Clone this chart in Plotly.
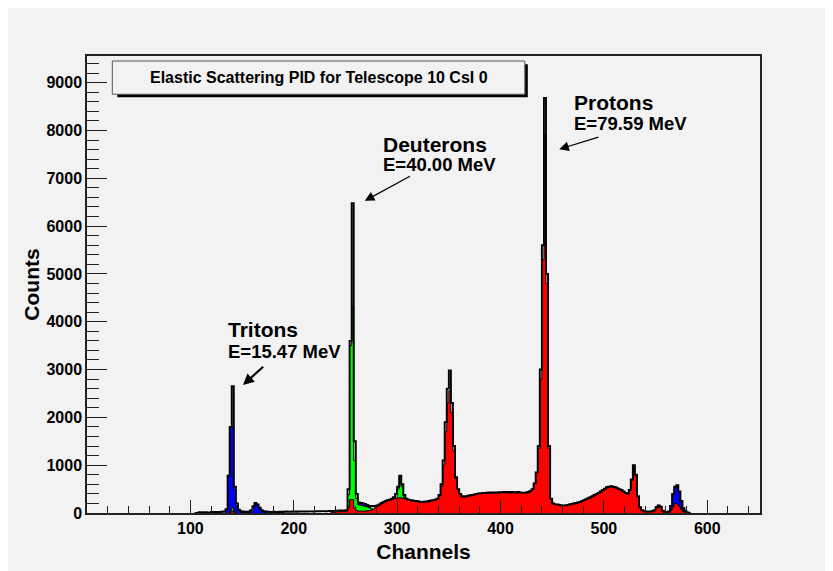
import plotly.graph_objects as go

# ---------------- data (2-channel bins, listed from a start channel) ----------------
BIN = 2

TOTAL_START = 104
TOTAL = [
    0, 0, 15, 15, 10, 15, 0, 10, 20, 20,              # 104-122
    20, 15, 20, 25, 30, 80, 780, 1800, 2650, 550,     # 124-142
    200, 70, 40, 30, 25, 20, 30, 60, 140, 210,        # 144-162
    180, 110, 60, 40, 30, 25, 20, 20, 25, 20,         # 164-182
    20, 25, 20, 25, 30, 25, 25, 30, 30, 25,           # 184-202
    30, 30, 35, 30, 30, 35, 35, 30, 35, 40,           # 204-222
    35, 40, 40, 35, 40, 45, 40, 45, 50, 50,           # 224-242
    55, 50, 55, 60, 500, 3600, 6480, 1500, 400, 220,  # 244-262
    210, 200, 190, 170, 150, 140, 150, 140, 160, 180, # 264-282
    210, 230, 250, 270, 280, 300, 330, 400, 550, 780, # 284-302
    600, 380, 300, 280, 270, 260, 250, 250, 240, 230, # 304-322
    230, 240, 240, 250, 260, 270, 280, 300, 380, 600, # 324-342
    1100, 1900, 2600, 2980, 2300, 1400, 750, 500, 400, 350,  # 344-362
    340, 350, 360, 370, 380, 390, 400, 410, 410, 420, # 364-382
    420, 425, 430, 420, 430, 430, 425, 435, 430, 440, # 384-402
    435, 440, 430, 440, 435, 430, 440, 430, 425, 420, # 404-422
    430, 440, 460, 500, 620, 850, 1400, 3000, 5600, 8680,    # 424-442
    5000, 1400, 300, 200, 180, 180, 170, 160, 160, 160,      # 444-462
    170, 180, 190, 200, 210, 220, 230, 250, 270, 290, # 464-482
    310, 330, 350, 380, 400, 420, 450, 480, 510, 540, # 484-502
    550, 560, 550, 540, 520, 500, 480, 450, 420, 400, # 504-522
    480, 700, 1000, 800, 350, 120, 60, 40, 30, 30,    # 524-542
    30, 40, 60, 120, 160, 130, 50, 20, 15, 30,        # 544-562
    150, 400, 550, 580, 450, 250, 100, 40, 10, 0,     # 564-582
]

RED_START = 236
RED = [
    20, 20, 25, 25, 30, 30, 30, 40, 120, 280,         # 236-254
    280, 100, 50, 40, 40, 40, 40, 45, 50, 60,         # 256-274
    80, 110, 150, 170, 200, 220, 240, 260, 270, 290,  # 276-294
    300, 300, 310, 320, 310, 300, 300, 280, 270, 260, # 296-314
    250, 250, 240, 230, 230, 240, 240, 250, 260, 270, # 316-334
    280, 300, 360, 560, 1000, 1700, 2300, 2560, 2100, 1300,  # 336-354
    720, 490, 400, 350, 340, 350, 360, 370, 380, 390, # 356-374
    400, 410, 410, 420, 420, 425, 430, 420, 430, 430, # 376-394
    425, 435, 430, 440, 435, 440, 430, 440, 435, 430, # 396-414
    440, 430, 425, 420, 430, 440, 460, 500, 620, 850, # 416-434
    1350, 2800, 5300, 7900, 4800, 1350, 290, 200, 180, 180,  # 436-454
    170, 160, 160, 160, 170, 180, 190, 200, 210, 220, # 456-474
    230, 250, 270, 290, 310, 330, 350, 380, 400, 420, # 476-494
    450, 480, 510, 540, 550, 560, 550, 540, 520, 500, # 496-514
    480, 450, 420, 400, 470, 680, 950, 780, 340, 120, # 516-534
    60, 40, 30, 30, 30, 40, 60, 120, 160, 130,        # 536-554
    50, 20, 15, 25, 60, 130, 200, 190, 140, 70,       # 556-574
    30, 10,                                           # 576-578
]
RED_LOW_START = 138
RED_LOW = [20, 40, 15]

GREEN_START = 250
GREEN = [
    20, 380, 3500, 4330, 1100, 300, 170, 160, 150, 140,  # 250-268
    130, 110, 90, 60, 40, 30, 20, 20, 15, 15,            # 270-288
    20, 30, 50, 150, 300, 500, 770, 550, 330, 100,       # 290-308
    20,                                                  # 310
]
GREEN_LOW_START = 138
GREEN_LOW = [40, 110, 30]

BLUE_START = 134
BLUE = [
    60, 760, 1790, 1800, 500, 150, 50, 20, 10, 10,   # 134-152
    10, 20, 50, 130, 210, 170, 100, 50, 20, 10,      # 154-172
]
BLUE_MID_START = 260
BLUE_MID = [100, 200, 210, 200, 190, 170, 130, 80, 40]
BLUE_HIGH_START = 562
BLUE_HIGH = [20, 140, 380, 540, 570, 430, 230, 90, 30]

X_TICKS = [100, 200, 300, 400, 500, 600]
Y_TICKS = [0, 1000, 2000, 3000, 4000, 5000, 6000, 7000, 8000, 9000]

TITLE = "Elastic Scattering PID for Telescope 10 CsI 0"
LABELS = [
    ("Tritons", "E=15.47 MeV"),
    ("Deuterons", "E=40.00 MeV"),
    ("Protons", "E=79.59 MeV"),
]


def steps(start, vals):
    edges = [start + BIN * i for i in range(len(vals) + 1)]
    xs = [edges[0]] + edges
    ys = [0] + list(vals) + [0]
    return xs, ys


fig = go.Figure()


def add_filled(start, vals, color):
    xs, ys = steps(start, vals)
    fig.add_trace(go.Scatter(
        x=xs, y=ys, mode="lines", line=dict(color="black", width=1, shape="hv"),
        fill="tozeroy", fillcolor=color, showlegend=False, hoverinfo="skip"))


add_filled(BLUE_START, BLUE, "#0000FF")
add_filled(BLUE_MID_START, BLUE_MID, "#0000FF")
add_filled(BLUE_HIGH_START, BLUE_HIGH, "#0000FF")
add_filled(GREEN_START, GREEN, "#00FF00")
add_filled(GREEN_LOW_START, GREEN_LOW, "#00FF00")
add_filled(RED_START, RED, "#FF0000")
add_filled(RED_LOW_START, RED_LOW, "#FF0000")

tx, ty = steps(TOTAL_START, TOTAL)
fig.add_trace(go.Scatter(x=tx, y=ty, mode="lines",
                         line=dict(color="black", width=1.9, shape="hv"),
                         showlegend=False, hoverinfo="skip"))

BG = "#F2F2F2"
FONT = "Liberation Sans, Arial, Helvetica, sans-serif"

# the page body adds an 8 px offset, so the figure is 8 px smaller and shifted
fig.update_layout(
    width=825, height=563, autosize=False,
    margin=dict(l=79.4, r=73, t=48, b=57.5),
    paper_bgcolor=BG, plot_bgcolor=BG,
    font=dict(family=FONT, color="black"),
    xaxis=dict(
        range=[0, 651], showgrid=False, zeroline=False,
        showline=True, linecolor="#222", linewidth=1.5, mirror=True,
        tickmode="array", tickvals=X_TICKS, ticktext=[str(v) for v in X_TICKS],
        ticks="inside", ticklen=13, tickwidth=1.3, tickcolor="#222",
        minor=dict(tickmode="linear", tick0=0, dtick=20, ticks="inside",
                   ticklen=7, tickwidth=1.3, tickcolor="#222", showgrid=False),
        tickfont=dict(size=16, family=FONT, weight="bold"),
        title=dict(text="Channels", font=dict(size=21, family=FONT, weight="bold"),
                   standoff=8),
    ),
    yaxis=dict(
        range=[0, 9557], showgrid=False, zeroline=False,
        showline=True, linecolor="#222", linewidth=1.5, mirror=True,
        tickmode="array", tickvals=Y_TICKS, ticktext=[str(v) for v in Y_TICKS],
        ticks="inside", ticklen=20, tickwidth=1.3, tickcolor="#222",
        minor=dict(tickmode="linear", tick0=0, dtick=200, ticks="inside",
                   ticklen=12, tickwidth=1.3, tickcolor="#222", showgrid=False),
        tickfont=dict(size=16, family=FONT, weight="bold"),
        title=dict(text="Counts", font=dict(size=21, family=FONT, weight="bold"),
                   standoff=1),
    ),
)

# title box with shadow (ROOT TPaveText style)
fig.add_shape(type="rect", xref="paper", yref="paper",
              x0=0.045, x1=0.655, y0=0.9097, y1=0.982,
              fillcolor="black", line=dict(width=0), layer="above")
fig.add_shape(type="rect", xref="paper", yref="paper",
              x0=0.0376, x1=0.6506, y0=0.9163, y1=0.989,
              fillcolor=BG, line=dict(color="#555", width=1), layer="above")
fig.add_annotation(xref="paper", yref="paper", x=0.344, y=0.9527,
                   text=TITLE, showarrow=False, xanchor="center", yanchor="middle",
                   font=dict(size=16, family=FONT, weight="bold"))

# particle labels (page-pixel positions converted to paper fractions)
PX0, PX1, PY0, PY1 = 87.4, 760.0, 513.5, 56.0


def px2paper(px, py):
    return (px - PX0) / (PX1 - PX0), (PY0 - py) / (PY0 - PY1)


label_pos = [(226.7, 330.0, 351.5), (381.0, 144.3, 164.5), (571.7, 102.2, 123.3)]
for (name, energy), (lx, y1, y2) in zip(LABELS, label_pos):
    x, y = px2paper(lx, y1)
    fig.add_annotation(xref="paper", yref="paper", x=x, y=y, text=name,
                       showarrow=False, xanchor="left", yanchor="middle",
                       font=dict(size=21, family=FONT, weight="bold"))
    x, y = px2paper(lx, y2)
    fig.add_annotation(xref="paper", yref="paper", x=x, y=y, text=energy,
                       showarrow=False, xanchor="left", yanchor="middle",
                       font=dict(size=18.5, family=FONT, weight="bold"))

# arrows: (tip px, tail px, width)
arrows = [((243.3, 385.3), (265.0, 365.7), 2.2),
          ((365.0, 201.0), (411.7, 175.5), 1.2),
          ((559.3, 149.3), (600.0, 136.7), 1.2)]
for (tipx, tipy), (tlx, tly), w in arrows:
    x, y = px2paper(tipx, tipy)
    fig.add_annotation(xref="paper", yref="paper", x=x, y=y, text="",
                       showarrow=True, ax=tlx - tipx, ay=tly - tipy,
                       arrowhead=2, arrowsize=1.6 if w < 2 else 1.0,
                       arrowwidth=w, arrowcolor="black", standoff=0)

fig.write_html("out.html")
